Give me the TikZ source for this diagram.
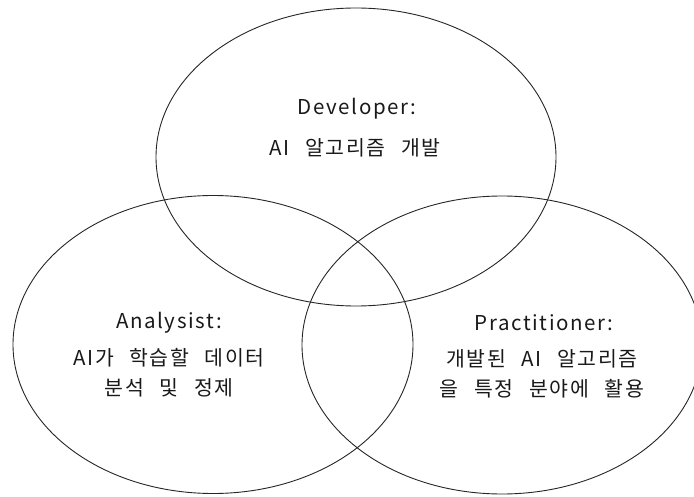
\documentclass[tikz,border=0pt]{standalone}
\usepackage{fontspec}
\setmainfont{Noto Sans CJK KR}[LetterSpace=8, WordSpace=2.5]
\usetikzlibrary{shapes.geometric}
\tikzset{
  venn/.style={draw=black!85, line width=0.9pt, ellipse, minimum width=400pt, minimum height=298pt, inner sep=0pt},
  label txt/.style={font=\fontsize{20.5}{30}\selectfont, align=center, text=black!90, inner sep=0pt}
}
\begin{document}
\begin{tikzpicture}[x=1pt,y=-1pt]
\useasboundingbox (0,0) rectangle (694,497);
\clip (0,0) rectangle (694,497);
\node[venn] (dev) at (356,157) {};
\node[venn] (ana) at (213,344.5) {};
\node[venn] (pra) at (502,345) {};
\node[label txt] (devt) at (357,109) {Developer:};
\node[label txt] (devd) at (355,148) {AI 알고리즘 개발};
\node[label txt] (anat) at (169,323) {Analysist:};
\node[label txt, anchor=north] (anad) at (169,348) {AI가 학습할 데이터\\분석 및 정제};
\node[label txt] (prat) at (544,323) {Practitioner:};
\node[label txt, anchor=north] (prad) at (542,349) {개발된 AI 알고리즘\\을 특정 분야에 활용};
\end{tikzpicture}
\end{document}
